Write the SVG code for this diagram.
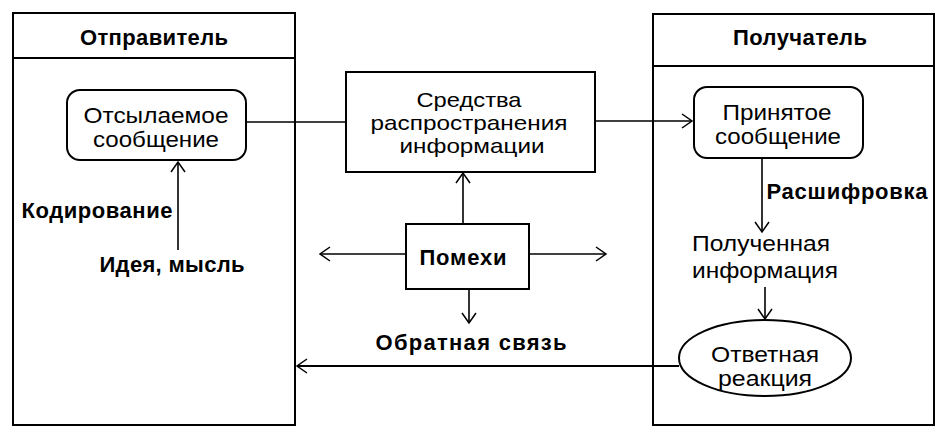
<svg xmlns="http://www.w3.org/2000/svg" width="945" height="431" viewBox="0 0 945 431">
<defs>
<marker id="arr" markerUnits="userSpaceOnUse" markerWidth="20" markerHeight="20" viewBox="-12 -10 14 20" refX="0" refY="0" orient="auto">
<path d="M-10,-7 L0,0 L-10,7" fill="none" stroke="#000" stroke-width="1.5"/>
</marker>
</defs>
<style>
.box{fill:#fff;stroke:#000;stroke-width:2}
.ln{fill:none;stroke:#000;stroke-width:1.6}
.t{font-family:"Liberation Sans",Arial,sans-serif;font-size:22px;fill:#000;text-anchor:middle}
.m{font-size:21px}
.b{font-weight:bold;font-size:22px}
</style>
<rect width="945" height="431" fill="#fff"/>
<g id="sender">
<rect class="box" x="13" y="13" width="282" height="412"/>
<line class="box" x1="13" y1="58" x2="295" y2="58"/>
<text class="t b" x="154" y="45" textLength="148" lengthAdjust="spacing">Отправитель</text>
</g>
<g id="receiver">
<rect class="box" x="653" y="14" width="281" height="411"/>
<line class="box" x1="653" y1="66" x2="934" y2="66"/>
<text class="t b" x="800" y="45" textLength="134" lengthAdjust="spacing">Получатель</text>
</g>
<g id="sent">
<rect class="box" x="67" y="90" width="179" height="70" rx="13"/>
<text class="t" x="156" y="123" textLength="145" lengthAdjust="spacingAndGlyphs">Отсылаемое</text>
<text class="t" x="156" y="147" textLength="126" lengthAdjust="spacingAndGlyphs">сообщение</text>
</g>
<g id="media">
<rect class="box" x="346" y="72" width="249" height="100"/>
<text class="t m" x="469" y="107" textLength="105" lengthAdjust="spacingAndGlyphs">Средства</text>
<text class="t m" x="469" y="130" textLength="197" lengthAdjust="spacingAndGlyphs">распространения</text>
<text class="t m" x="472" y="153" textLength="145" lengthAdjust="spacingAndGlyphs">информации</text>
</g>
<g id="noise">
<rect class="box" x="406" y="224" width="123" height="65"/>
<text class="t b" x="463" y="265" textLength="87" lengthAdjust="spacing">Помехи</text>
</g>
<g id="received">
<rect class="box" x="694" y="87" width="169" height="71" rx="13"/>
<text class="t" x="777" y="120" textLength="109" lengthAdjust="spacingAndGlyphs">Принятое</text>
<text class="t" x="778" y="144" textLength="126" lengthAdjust="spacingAndGlyphs">сообщение</text>
</g>
<g id="idea">
<text class="t b" x="172" y="272" textLength="145" lengthAdjust="spacing">Идея, мысль</text>
</g>
<g id="gotinfo">
<text class="t" x="761" y="251" textLength="138" lengthAdjust="spacingAndGlyphs">Полученная</text>
<text class="t" x="765" y="278" textLength="146" lengthAdjust="spacingAndGlyphs">информация</text>
</g>
<g id="response">
<ellipse class="box" cx="765" cy="358" rx="86" ry="38"/>
<text class="t" x="765" y="362" textLength="108" lengthAdjust="spacingAndGlyphs">Ответная</text>
<text class="t" x="765" y="386" textLength="94" lengthAdjust="spacingAndGlyphs">реакция</text>
</g>
<g id="connectors">
<line class="ln" x1="178" y1="250" x2="178" y2="162" marker-end="url(#arr)"/>
<line class="ln" x1="246" y1="122" x2="346" y2="122"/>
<line class="ln" x1="595" y1="121" x2="692" y2="121" marker-end="url(#arr)"/>
<line class="ln" x1="463" y1="224" x2="463" y2="173" marker-end="url(#arr)"/>
<line class="ln" x1="406" y1="254" x2="320" y2="254" marker-end="url(#arr)"/>
<line class="ln" x1="529" y1="254" x2="606" y2="254" marker-end="url(#arr)"/>
<line class="ln" x1="469" y1="289" x2="469" y2="323" marker-end="url(#arr)"/>
<line class="ln" x1="762" y1="158" x2="762" y2="232" marker-end="url(#arr)"/>
<line class="ln" x1="765" y1="287" x2="765" y2="319" marker-end="url(#arr)"/>
<line class="ln" style="stroke-width:2" x1="679" y1="366" x2="297" y2="366" marker-end="url(#arr)"/>
<text class="t b" x="97" y="218" textLength="151" lengthAdjust="spacing">Кодирование</text>
<text class="t b" x="847" y="199" textLength="161" lengthAdjust="spacing">Расшифровка</text>
<text class="t b" x="471" y="350" textLength="191" lengthAdjust="spacing">Обратная  связь</text>
</g>
</svg>
